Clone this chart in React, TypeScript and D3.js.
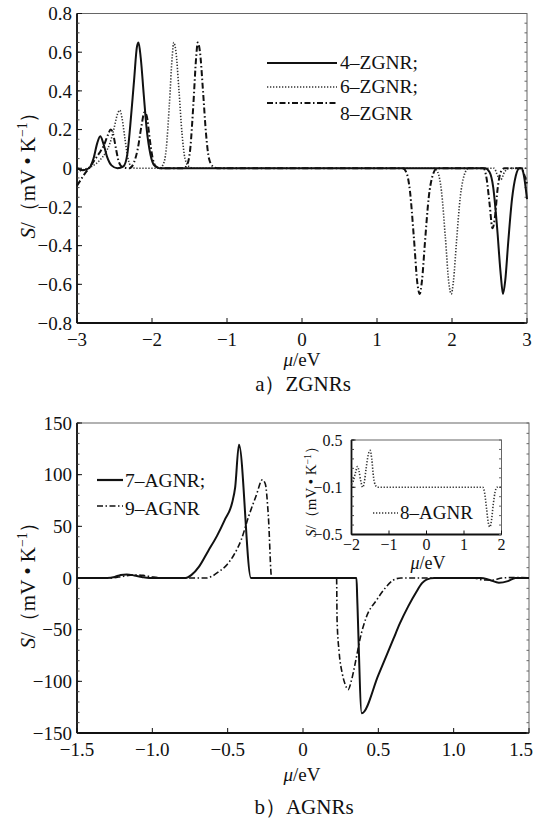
import React from "react";
import * as d3 from "d3";

type P = [number, number];

// ---------- data ----------
const zgnr4: P[] = [
  [-3, 0], [-2.92, -0.01], [-2.84, 0.0], [-2.78, 0.05], [-2.73, 0.13], [-2.69, 0.165], [-2.65, 0.13],
  [-2.6, 0.06], [-2.54, 0.015], [-2.46, 0.0], [-2.38, 0.01], [-2.33, 0.07], [-2.29, 0.22], [-2.24, 0.45],
  [-2.2, 0.63], [-2.18, 0.65], [-2.15, 0.57], [-2.11, 0.38], [-2.07, 0.2], [-2.02, 0.07], [-1.97, 0.015],
  [-1.9, 0], [2.44, 0], [2.5, -0.02], [2.55, -0.1], [2.6, -0.3], [2.65, -0.55], [2.68, -0.65], [2.71, -0.58],
  [2.75, -0.38], [2.8, -0.16], [2.85, -0.04], [2.9, 0], [2.93, 0], [2.96, -0.04], [3, -0.16],
];
const zgnr6: P[] = [
  [-3, -0.02], [-2.9, -0.005], [-2.8, 0.01], [-2.7, 0.04], [-2.62, 0.08], [-2.56, 0.13], [-2.51, 0.2],
  [-2.46, 0.28], [-2.43, 0.3], [-2.4, 0.26], [-2.36, 0.15], [-2.32, 0.05], [-2.28, 0.01], [-2.22, 0],
  [-1.9, 0], [-1.85, 0.02], [-1.81, 0.1], [-1.77, 0.32], [-1.73, 0.58], [-1.71, 0.65], [-1.68, 0.6],
  [-1.64, 0.4], [-1.6, 0.18], [-1.56, 0.05], [-1.51, 0.01], [-1.45, 0], [1.76, 0], [1.81, -0.02],
  [1.86, -0.12], [1.91, -0.35], [1.96, -0.6], [1.99, -0.65], [2.02, -0.58], [2.06, -0.38], [2.11, -0.15],
  [2.16, -0.04], [2.22, 0], [2.56, 0], [2.61, -0.04], [2.65, -0.06], [2.7, -0.02], [2.76, 0], [3, 0],
];
const zgnr8: P[] = [
  [-3, -0.09], [-2.95, -0.06], [-2.9, -0.03], [-2.84, 0.0], [-2.77, 0.04], [-2.7, 0.08], [-2.64, 0.12],
  [-2.59, 0.17], [-2.55, 0.2], [-2.52, 0.18], [-2.48, 0.1], [-2.44, 0.03], [-2.39, 0.005], [-2.3, 0.0],
  [-2.24, 0.03], [-2.19, 0.1], [-2.14, 0.22], [-2.1, 0.29], [-2.07, 0.27], [-2.03, 0.15], [-1.99, 0.05],
  [-1.95, 0.01], [-1.88, 0], [-1.58, 0], [-1.53, 0.02], [-1.49, 0.1], [-1.45, 0.32], [-1.41, 0.58],
  [-1.39, 0.65], [-1.36, 0.6], [-1.32, 0.4], [-1.28, 0.18], [-1.24, 0.05], [-1.19, 0.01], [-1.13, 0],
  [1.34, 0], [1.39, -0.02], [1.44, -0.12], [1.49, -0.35], [1.54, -0.6], [1.57, -0.65], [1.6, -0.58],
  [1.64, -0.38], [1.69, -0.15], [1.74, -0.04], [1.8, 0], [2.42, 0], [2.46, -0.05], [2.5, -0.18],
  [2.54, -0.31], [2.57, -0.26], [2.61, -0.1], [2.65, -0.02], [2.7, 0], [2.92, 0], [2.96, -0.03], [3, -0.08],
];
const agnr7: P[] = [
  [-1.5, 0], [-1.3, 0], [-1.25, 1], [-1.21, 3], [-1.17, 3.5], [-1.12, 2.5], [-1.07, 1], [-1.02, 0],
  [-0.78, 0], [-0.74, 3], [-0.69, 11], [-0.63, 26], [-0.57, 41], [-0.52, 56], [-0.47, 73], [-0.45, 88],
  [-0.425, 129], [-0.345, 0], [0.355, 0], [0.36, -20], [0.39, -131], [0.5, -94], [0.6, -59], [0.643, -44],
  [0.7, -27], [0.754, -13], [0.79, -5], [0.82, -1.5], [0.87, 0], [1.18, 0], [1.24, -2], [1.3, -4.5],
  [1.36, -3], [1.41, 0], [1.5, 0],
];
const agnr9: P[] = [
  [-1.5, 0], [-1.27, 0], [-1.2, 1.5], [-1.13, 3], [-1.06, 2.5], [-1.0, 1], [-0.93, 0], [-0.64, 0],
  [-0.6, 2], [-0.56, 6], [-0.51, 12], [-0.46, 22], [-0.41, 37], [-0.36, 60], [-0.31, 80], [-0.27, 95],
  [-0.25, 91], [-0.23, 60], [-0.208, 0], [0.223, 0], [0.226, -40], [0.24, -72], [0.26, -92], [0.28, -103],
  [0.3, -108], [0.32, -100], [0.35, -80], [0.38, -58], [0.42, -38], [0.49, -21], [0.55, -9], [0.6, -2],
  [0.65, 0], [1.13, 0], [1.2, -2], [1.26, -2], [1.32, 0], [1.42, 0.5], [1.5, 0],
];
const agnr8: P[] = [
  [-2, 0.03], [-1.95, 0.07], [-1.89, 0.16], [-1.84, 0.22], [-1.8, 0.17], [-1.75, 0.06], [-1.7, 0.0],
  [-1.66, 0.05], [-1.61, 0.2], [-1.55, 0.35], [-1.5, 0.39], [-1.46, 0.3], [-1.41, 0.1], [-1.36, 0.02],
  [-1.3, 0], [1.5, 0], [1.55, -0.06], [1.6, -0.22], [1.65, -0.38], [1.69, -0.42], [1.73, -0.36],
  [1.78, -0.18], [1.83, -0.05], [1.88, 0], [2, 0],
];

const topXTicks = [-3, -2, -1, 0, 1, 2, 3];
const topXLabels = ["−3", "−2", "−1", "0", "1", "2", "3"];
const topYTicks = [0.8, 0.6, 0.4, 0.2, 0, -0.2, -0.4, -0.6, -0.8];
const topYLabels = ["0.8", "0.6", "0.4", "0.2", "0", "−0.2", "−0.4", "−0.6", "−0.8"];
const botXTicks = [-1.5, -1, -0.5, 0, 0.5, 1, 1.5];
const botXLabels = ["−1.5", "−1.0", "−0.5", "0", "0.5", "1.0", "1.5"];
const botYTicks = [150, 100, 50, 0, -50, -100, -150];
const botYLabels = ["150", "100", "50", "0", "−50", "−100", "−150"];
const insXTicks = [-2, -1, 0, 1, 2];
const insXLabels = ["−2", "−1", "0", "1", "2"];
const insYTicks = [0.5, 0, -0.5];
const insYLabels = ["0.5", "−0.1", "−0.5"];
const topLegend = ["4–ZGNR;", "6–ZGNR;", "8–ZGNR"];
const botLegend = ["7–AGNR;", "9–AGNR"];
const insLegend = ["8–AGNR"];
const captions = ["a）ZGNRs", "b）AGNRs"];

// ---------- styles ----------
const FONT = "'Liberation Serif', 'Times New Roman', Times, serif";
const SOLID = { stroke: "#111", strokeWidth: 2, fill: "none" };
const DOT = { stroke: "#333", strokeWidth: 1.6, strokeDasharray: "1.3 1.7", fill: "none" };
const DASHDOT = { stroke: "#111", strokeWidth: 2, strokeDasharray: "6 2.5 1.5 2.5", fill: "none" };

type Sc = d3.ScaleLinear<number, number>;

function Frame(props: {
  x: Sc; y: Sc; xTicks: number[]; xLabels: string[]; yTicks: number[]; yLabels: string[];
  yMinor: number; fs: number; xLabDy: number; yLabDx: number; tick: number; maxX?: number;
}) {
  const { x, y, xTicks, xLabels, yTicks, yLabels, yMinor, fs, xLabDy, yLabDx, tick, maxX } = props;
  const [x0, x1] = x.range();
  const [y0, y1] = y.range();
  const [dmin, dmax] = y.domain();
  const minors = d3.range(dmin, dmax + yMinor / 2, yMinor);
  return (
    <g>
      <rect x={x0} y={y1} width={x1 - x0} height={y0 - y1} fill="#fff" stroke="#666" strokeWidth={1} />
      <line x1={x0} x2={x0} y1={y1} y2={y0} stroke="#111" strokeWidth={1.8} />
      <line x1={x0} x2={x1} y1={y0} y2={y0} stroke="#111" strokeWidth={1.8} />
      {minors.map((v, i) => (
        <g key={"m" + i}>
          <line x1={x1} x2={x1 - 2.5} y1={y(v)} y2={y(v)} stroke="#666" strokeWidth={1} />
          <line x1={x0} x2={x0 + 2.5} y1={y(v)} y2={y(v)} stroke="#444" strokeWidth={1} />
        </g>
      ))}
      {xTicks.map((v, i) => {
        const last = maxX !== undefined && i === xTicks.length - 1;
        return (
          <g key={"x" + i}>
            <line x1={x(v)} x2={x(v)} y1={y0} y2={y0 - tick} stroke="#111" strokeWidth={1} />
            <text x={last ? (maxX as number) : x(v)} y={y0 + xLabDy} textAnchor={last ? "end" : "middle"}
              fontSize={fs} fontFamily={FONT} fill="#111">
              {xLabels[i]}
            </text>
          </g>
        );
      })}
      {yTicks.map((v, i) => (
        <g key={"y" + i}>
          <line x1={x0} x2={x0 + tick} y1={y(v)} y2={y(v)} stroke="#111" strokeWidth={1} />
          <text x={x0 - yLabDx} y={y(v)} dy="0.35em" textAnchor="end" fontSize={fs} fontFamily={FONT} fill="#111">
            {yLabels[i]}
          </text>
        </g>
      ))}
    </g>
  );
}

function YLabel({ cx, cy, fs }: { cx: number; cy: number; fs: number }) {
  return (
    <text transform={`translate(${cx},${cy}) rotate(-90)`} textAnchor="middle" dy="0.35em"
      fontSize={fs} fontFamily={FONT} fill="#111">
      <tspan fontStyle="italic">S</tspan>
      <tspan>/（mV • K</tspan>
      <tspan dy={-fs * 0.38} fontSize={fs * 0.65}>−1</tspan>
      <tspan dy={fs * 0.38}>）</tspan>
    </text>
  );
}

function XLabel({ cx, y, fs }: { cx: number; y: number; fs: number }) {
  return (
    <text x={cx} y={y} textAnchor="middle" fontSize={fs} fontFamily={FONT} fill="#111">
      <tspan fontStyle="italic">μ</tspan>
      <tspan>/eV</tspan>
    </text>
  );
}

export default function App() {
  const W = 533, H = 819;
  // top panel
  const xT = d3.scaleLinear().domain([-3, 3]).range([77, 527]);
  const yT = d3.scaleLinear().domain([-0.8, 0.8]).range([323, 13.5]);
  // bottom panel
  const xB = d3.scaleLinear().domain([-1.5, 1.5]).range([77, 529]);
  const yB = d3.scaleLinear().domain([-150, 150]).range([733, 423]);
  // inset
  const xI = d3.scaleLinear().domain([-2, 2]).range([351.5, 501.5]);
  const yI = d3.scaleLinear().domain([-0.5, 0.5]).range([534.5, 440]);

  const mk = (xs: Sc, ys: Sc) =>
    d3.line<P>().x((d) => xs(d[0])).y((d) => ys(d[1])).curve(d3.curveMonotoneX);
  const lT = mk(xT, yT);
  const lB = mk(xB, yB);
  const lI = mk(xI, yI);

  const topStyles = [SOLID, DOT, DASHDOT];
  const topLegY = [63, 87, 103];
  const topLegTextY = [69, 93, 120];

  return (
    <svg width={W} height={H} viewBox={`0 0 ${W} ${H}`} style={{ display: "block", position: "absolute", left: 0, top: 0 }}>
      <rect width={W} height={H} fill="#fff" />
      {/* ---------- Top panel ---------- */}
      <Frame x={xT} y={yT} xTicks={topXTicks} xLabels={topXLabels} yTicks={topYTicks} yLabels={topYLabels}
        yMinor={0.05} fs={19} xLabDy={23} yLabDx={5} tick={5} />
      <g>
        <path d={lT(zgnr6) || ""} {...DOT} />
        <path d={lT(zgnr8) || ""} {...DASHDOT} />
        <path d={lT(zgnr4) || ""} {...SOLID} />
      </g>
      {topLegend.map((t, i) => (
        <g key={t}>
          <line x1={267} x2={337} y1={topLegY[i]} y2={topLegY[i]} {...topStyles[i]} />
          <text x={340} y={topLegTextY[i]} fontSize={19.5} fontFamily={FONT} fill="#111">{t}</text>
        </g>
      ))}
      <YLabel cx={28} cy={170} fs={21} />
      <XLabel cx={302} y={366} fs={19} />
      <text x={303} y={391} textAnchor="middle" fontSize={21} fontFamily={FONT} fill="#111">{captions[0]}</text>

      {/* ---------- Bottom panel ---------- */}
      <Frame x={xB} y={yB} xTicks={botXTicks} xLabels={botXLabels} yTicks={botYTicks} yLabels={botYLabels}
        yMinor={10} fs={19} xLabDy={23} yLabDx={5} tick={5} maxX={533} />
      <g>
        <path d={lB(agnr9) || ""} {...DASHDOT} strokeWidth={1.6} />
        <path d={lB(agnr7) || ""} {...SOLID} />
      </g>
      {botLegend.map((t, i) => (
        <g key={t}>
          <line x1={97} x2={123} y1={480 + i * 26} y2={480 + i * 26} {...(i === 0 ? SOLID : DASHDOT)} strokeWidth={i === 0 ? 2.2 : 1.6} />
          <text x={125} y={487 + i * 28} fontSize={19.5} fontFamily={FONT} fill="#111">{t}</text>
        </g>
      ))}
      <YLabel cx={28} cy={580} fs={21} />
      <XLabel cx={302} y={781} fs={19} />
      <text x={304} y={814} textAnchor="middle" fontSize={21} fontFamily={FONT} fill="#111">{captions[1]}</text>

      {/* ---------- Inset ---------- */}
      <Frame x={xI} y={yI} xTicks={insXTicks} xLabels={insXLabels} yTicks={insYTicks} yLabels={insYLabels}
        yMinor={0.1} fs={16} xLabDy={15.5} yLabDx={9} tick={4} />
      <path d={lI(agnr8) || ""} {...DOT} />
      <line x1={373} x2={398} y1={513} y2={513} {...DOT} />
      <text x={400} y={519} fontSize={19} fontFamily={FONT} fill="#111">{insLegend[0]}</text>
      <YLabel cx={311} cy={488} fs={15} />
      <XLabel cx={428} y={569} fs={18} />
    </svg>
  );
}
